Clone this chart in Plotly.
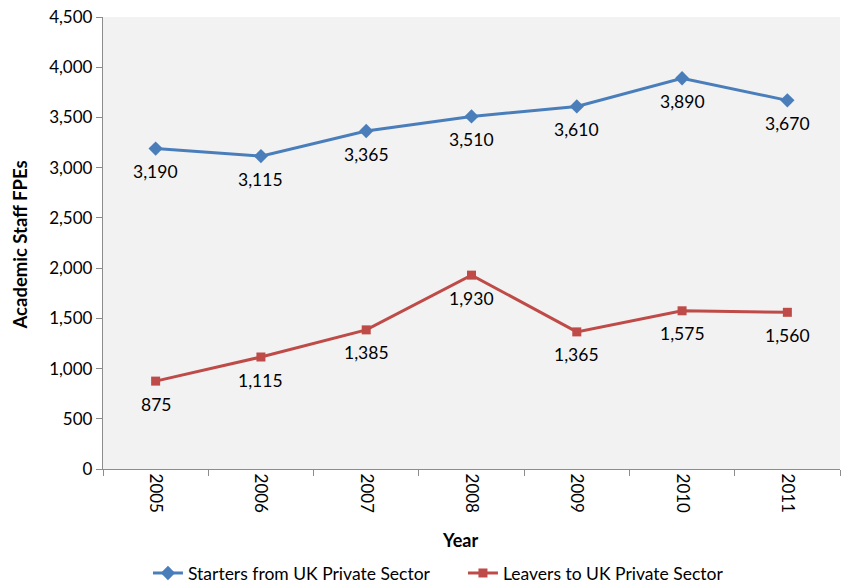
import plotly.graph_objects as go

years = ["2005", "2006", "2007", "2008", "2009", "2010", "2011"]
starters = [3190, 3115, 3365, 3510, 3610, 3890, 3670]
leavers = [875, 1115, 1385, 1930, 1365, 1575, 1560]
y_ticks = [0, 500, 1000, 1500, 2000, 2500, 3000, 3500, 4000, 4500]

FONT = "Lato, Calibri, 'Liberation Sans', sans-serif"
BLUE = "#4A7EBB"
RED = "#BE4B48"
AXIS = "#8C8C8C"


def fmt(v):
    return f"{v:,}"


fig = go.Figure()
fig.add_trace(go.Scatter(
    x=years, y=starters, mode="lines+markers",
    name="Starters from UK Private Sector",
    line=dict(color=BLUE, width=3),
    marker=dict(symbol="diamond", size=11, color=BLUE),
))
fig.add_trace(go.Scatter(
    x=years, y=leavers, mode="lines+markers",
    name="Leavers to UK Private Sector",
    line=dict(color=RED, width=3),
    marker=dict(symbol="square", size=9, color=RED),
))

# value labels sit a little below each point (x given as category index)
labels = []
for series in (starters, leavers):
    for i, v in enumerate(series):
        labels.append(dict(
            x=i, y=v, xref="x", yref="y", text=fmt(v), showarrow=False,
            yshift=-23, xanchor="center", yanchor="middle",
            font=dict(family=FONT, size=17.5, color="#000000"),
        ))

labels += [
    dict(text="<b>Academic Staff FPEs</b>", xref="paper", yref="paper",
         x=-0.113, y=0.496, xanchor="center", yanchor="middle",
         textangle=-90, showarrow=False, font=dict(family=FONT, size=18.5)),
    dict(text="<b>Year</b>", xref="paper", yref="paper",
         x=0.484, y=-0.157, xanchor="center", yanchor="middle",
         showarrow=False, font=dict(family=FONT, size=18)),
]

fig.update_layout(
    width=848, height=586,
    margin=dict(l=103, r=8, t=17, b=117),
    paper_bgcolor="#FFFFFF", plot_bgcolor="#F2F2F2",
    font=dict(family=FONT, size=17, color="#000000"),
    showlegend=True,
    legend=dict(orientation="h", x=0.061, xanchor="left",
                yref="container", y=0.022, yanchor="middle",
                font=dict(family=FONT, size=17.5), itemwidth=30,
                entrywidth=270, entrywidthmode="pixels",
                traceorder="normal", bgcolor="rgba(0,0,0,0)"),
    xaxis=dict(
        type="category", tickangle=90, showgrid=False, automargin=False,
        showline=True, linecolor=AXIS, linewidth=1.3,
        ticks="outside", ticklen=6, tickcolor=AXIS, tickson="boundaries",
        tickfont=dict(family=FONT, size=17),
        range=[-0.5, 6.5],
    ),
    yaxis=dict(
        range=[0, 4500], tickvals=y_ticks, ticktext=[fmt(v) for v in y_ticks],
        showgrid=False, zeroline=False, automargin=False,
        showline=True, linecolor=AXIS, linewidth=1.3,
        ticks="outside", ticklen=6, tickcolor=AXIS,
        tickfont=dict(family=FONT, size=17),
    ),
    annotations=labels,
)

fig.write_html("out.html")
